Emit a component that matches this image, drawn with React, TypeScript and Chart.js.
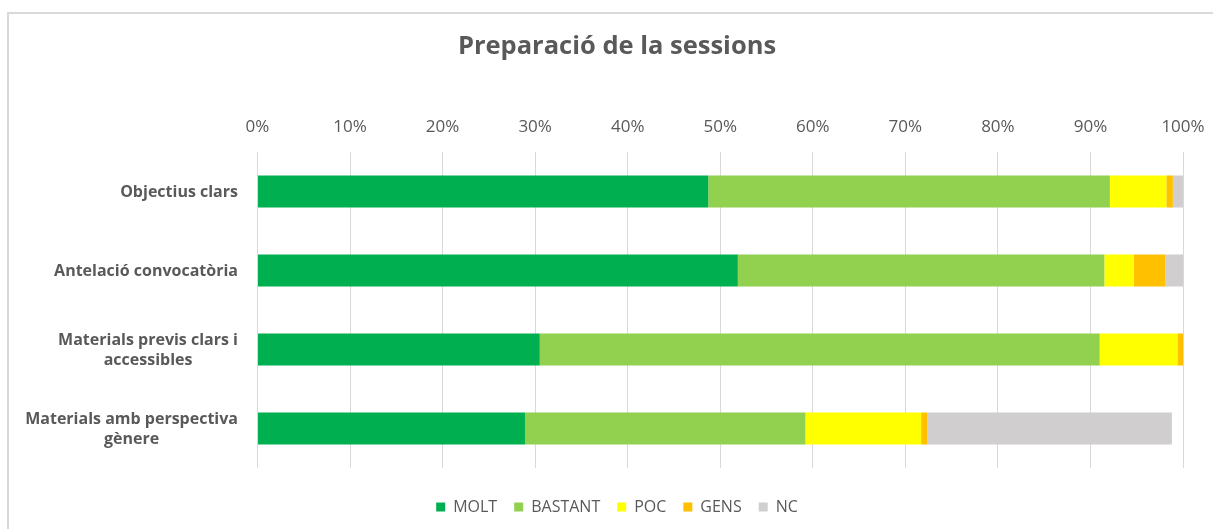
import React, { useEffect, useRef } from "react";
import { Chart, registerables } from "chart.js";

Chart.register(...registerables);

const title = "Preparació de la sessions";
const categories: (string | string[])[] = [
  "Objectius clars",
  "Antelació convocatòria",
  ["Materials previs clars i", "accessibles"],
  ["Materials amb perspectiva", "gènere"],
];
const seriesNames = ["MOLT", "BASTANT", "POC", "GENS", "NC"];
const seriesColors = ["#00B050", "#92D050", "#FFFF00", "#FFC000", "#D0CECE"];
const molt = [48.7, 51.9, 30.5, 28.9];
const bastant = [43.4, 39.6, 60.5, 30.3];
const poc = [6.1, 3.2, 8.4, 12.5];
const gens = [0.7, 3.4, 0.6, 0.7];
const nc = [1.1, 1.9, 0, 26.4];
const tickMax = 100;
const tickStep = 10;

const FONT = '"Open Sans", "Segoe UI", sans-serif';
const TEXT = "#595959";
const GRID = "#D9D9D9";

const yLabelPlugin = {
  id: "yLabelsCentered",
  afterDraw(chart: any) {
    const ctx = chart.ctx;
    const y = chart.scales.y;
    ctx.save();
    ctx.font = `bold 16px ${FONT}`;
    ctx.fillStyle = TEXT;
    ctx.textBaseline = "middle";
    ctx.textAlign = "center";
    const lh = 20;
    categories.forEach((lab, i) => {
      const lines = Array.isArray(lab) ? lab : [lab];
      const w = Math.max(...lines.map((l) => ctx.measureText(l).width));
      const right = y.right - 19.5;
      const cx = right - w / 2;
      const yc = y.getPixelForTick(i) + 1;
      lines.forEach((l, j) => {
        ctx.fillText(l, cx, yc + (j - (lines.length - 1) / 2) * lh);
      });
    });
    ctx.restore();
  },
};

export default function App() {
  const ref = useRef<HTMLCanvasElement>(null);
  useEffect(() => {
    document.body.style.margin = "0";
    const values = [molt, bastant, poc, gens, nc];
    const chart = new Chart(ref.current!, {
      type: "bar",
      data: {
        labels: categories,
        datasets: seriesNames.map((name, i) => ({
          label: name,
          data: values[i],
          backgroundColor: seriesColors[i],
          borderWidth: 0,
          barPercentage: 1,
          categoryPercentage: 0.405,
        })),
      },
      options: {
        indexAxis: "y",
        responsive: false,
        animation: false,
        layout: { padding: { left: 51, right: 30, top: 0, bottom: 4 } },
        plugins: {
          title: {
            display: true,
            text: title,
            color: TEXT,
            font: { family: FONT, size: 25.5, weight: "bold" },
            padding: { top: 31.7, bottom: 49.7 },
          },
          legend: {
            position: "bottom",
            labels: {
              boxWidth: 9,
              boxHeight: 9,
              padding: 17,
              color: TEXT,
              font: { family: FONT, size: 16 },
            },
          },
          tooltip: { enabled: false },
        },
        scales: {
          x: {
            type: "linear",
            position: "top",
            stacked: true,
            min: 0,
            max: tickMax,
            ticks: {
              stepSize: tickStep,
              color: TEXT,
              font: { family: FONT, size: 17 },
              padding: 14.8,
              callback: (v: any) => `${v}%`,
            },
            grid: { color: GRID, lineWidth: 1, drawTicks: false },
            border: { display: false },
            afterFit: (s: any) => {
              s.height = 40;
              s.paddingRight = 0;
              s.paddingLeft = 0;
            },
          },
          x2: {
            type: "linear",
            position: "bottom",
            display: true,
            ticks: { display: false },
            grid: { display: false, drawTicks: false },
            border: { display: false },
            afterFit: (s: any) => {
              s.height = 14;
              s.paddingRight = 0;
              s.paddingLeft = 0;
            },
          },
          y: {
            type: "category",
            stacked: true,
            ticks: { display: false },
            grid: { display: false, drawTicks: false },
            border: { display: false },
            afterFit: (s: any) => {
              s.width = 206.5;
            },
          },
        },
      } as any,
      plugins: [yLabelPlugin],
    });
    return () => chart.destroy();
  }, []);

  return (
    <div style={{ position: "absolute", left: 0, top: 0, width: 1213, height: 529, overflow: "hidden", background: "#fff" }}>
      <div
        style={{
          position: "absolute",
          left: 7,
          top: 12,
          width: 1300,
          height: 600,
          borderTop: `2px solid ${GRID}`,
          borderLeft: `2px solid ${GRID}`,
        }}
      />
      <canvas ref={ref} width={1213} height={529} style={{ position: "absolute", left: 0, top: 0 }} />
    </div>
  );
}
